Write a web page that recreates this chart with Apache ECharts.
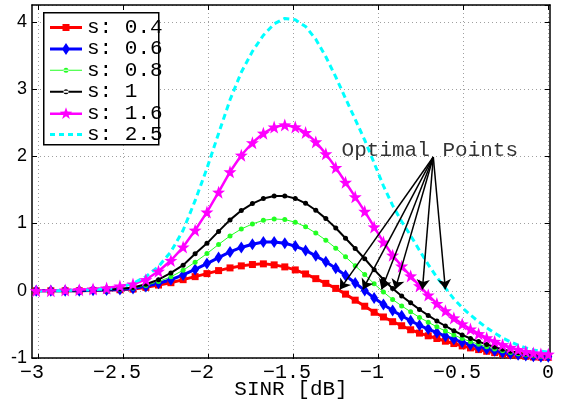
<!DOCTYPE html>
<html>
<head>
<meta charset="utf-8">
<script src="https://cdn.jsdelivr.net/npm/echarts@6/dist/echarts.min.js"></script>
<style>
  html, body { margin: 0; padding: 0; background: #fff; }
  #chart { width: 564px; height: 405px; }
</style>
</head>
<body>
<div id="chart"></div>
<script>
// SINR grid [dB]
const sinr = [-3.0103, -2.9243, -2.8400, -2.7572, -2.6761, -2.5964, -2.5181, -2.4413, -2.3657, -2.2915,
  -2.2185, -2.1467, -2.0761, -2.0066, -1.9382, -1.8709, -1.8046, -1.7393, -1.6749, -1.6115,
  -1.5490, -1.4874, -1.4267, -1.3668, -1.3077, -1.2494, -1.1919, -1.1351, -1.0791, -1.0238,
  -0.9691, -0.9151, -0.8619, -0.8092, -0.7572, -0.7058, -0.6550, -0.6048, -0.5552, -0.5061,
  -0.4576, -0.4096, -0.3621, -0.3152, -0.2687, -0.2228, -0.1773, -0.1323, -0.0877, -0.0436, 0]

const s04 = [0, 0, 0, 0, 0.005, 0.01, 0.015, 0.025, 0.05, 0.085,
  0.12, 0.165, 0.21, 0.255, 0.30, 0.34, 0.37, 0.39, 0.40, 0.385,
  0.355, 0.31, 0.25, 0.18, 0.11, 0.035, -0.05, -0.14, -0.23, -0.32,
  -0.39, -0.46, -0.52, -0.58, -0.63, -0.67, -0.71, -0.75, -0.785, -0.82,
  -0.85, -0.875, -0.90, -0.92, -0.94, -0.955, -0.965, -0.975, -0.985, -0.99, -0.99]
const s06 = [0, 0, 0, 0.001, 0.006, 0.011, 0.018, 0.033, 0.065, 0.111,
  0.164, 0.235, 0.318, 0.404, 0.494, 0.578, 0.644, 0.692, 0.724, 0.726,
  0.707, 0.664, 0.600, 0.519, 0.431, 0.334, 0.227, 0.116, 0.005, -0.109,
  -0.204, -0.295, -0.372, -0.447, -0.513, -0.569, -0.623, -0.675, -0.722, -0.766,
  -0.803, -0.835, -0.867, -0.892, -0.917, -0.936, -0.950, -0.963, -0.975, -0.981, -0.982]
const s08 = [0, 0, 0.001, 0.002, 0.007, 0.013, 0.022, 0.041, 0.080, 0.137,
  0.208, 0.305, 0.425, 0.553, 0.689, 0.816, 0.919, 0.994, 1.048, 1.068,
  1.059, 1.019, 0.951, 0.858, 0.752, 0.634, 0.504, 0.372, 0.241, 0.103,
  -0.019, -0.130, -0.225, -0.313, -0.396, -0.468, -0.537, -0.600, -0.658, -0.711,
  -0.757, -0.796, -0.833, -0.865, -0.894, -0.918, -0.935, -0.951, -0.965, -0.973, -0.975]
const s10 = [0, 0, 0.001, 0.003, 0.008, 0.014, 0.025, 0.049, 0.096, 0.164,
  0.265, 0.38, 0.55, 0.705, 0.883, 1.054, 1.193, 1.296, 1.371, 1.409,
  1.411, 1.373, 1.301, 1.197, 1.073, 0.934, 0.781, 0.629, 0.476, 0.314,
  0.167, 0.034, -0.077, -0.180, -0.279, -0.367, -0.450, -0.524, -0.595, -0.657,
  -0.710, -0.756, -0.800, -0.837, -0.871, -0.899, -0.921, -0.939, -0.955, -0.964, -0.967]
const s16 = [0, 0, 0.01, 0.015, 0.025, 0.04, 0.07, 0.10, 0.165, 0.29,
  0.45, 0.65, 0.90, 1.17, 1.466, 1.769, 2.016, 2.201, 2.343, 2.434,
  2.466, 2.436, 2.353, 2.214, 2.036, 1.832, 1.613, 1.397, 1.181, 0.949,
  0.724, 0.529, 0.366, 0.220, 0.073, -0.064, -0.190, -0.299, -0.405, -0.494,
  -0.570, -0.638, -0.700, -0.754, -0.803, -0.844, -0.876, -0.904, -0.925, -0.939, -0.944]
const s25 = [0, 0, 0.005, 0.01, 0.015, 0.025, 0.05, 0.11, 0.21, 0.36,
  0.58, 0.90, 1.34, 1.82, 2.34, 2.84, 3.25, 3.56, 3.80, 3.97,
  4.05, 4.03, 3.93, 3.74, 3.48, 3.18, 2.86, 2.55, 2.24, 1.90,
  1.56, 1.27, 1.03, 0.82, 0.60, 0.39, 0.20, 0.04, -0.12, -0.25,
  -0.36, -0.46, -0.55, -0.63, -0.70, -0.76, -0.81, -0.85, -0.88, -0.90, -0.91]

const xTicks = [-3, -2.5, -2, -1.5, -1, -0.5, 0]
const yTicks = [-1, 0, 1, 2, 3, 4]

// annotation: where the arrows start and the optimal points they hit
const optX = [-1.225, -1.09, -0.98, -0.90, -0.74, -0.605]
const optY = [0.02, 0.02, 0.02, 0.02, 0.02, 0.02]
const arrowFrom = [-0.676, 1.99]
const noteAt = [-1.215, 2.09]

const mono = 'Liberation Mono'
const toPairs = ys => sinr.map((x, i) => [x, ys[i]])
const star = 'path://M0,-10L2.35,-3.24L9.51,-3.09L3.8,1.24L5.88,8.09L0,4L-5.88,8.09L-3.8,1.24L-9.51,-3.09L-2.35,-3.24Z'
const dotted = { show: true, lineStyle: { color: '#a0a0a0', width: 1, type: [1, 3] } }
const frame = { show: true, onZero: false, lineStyle: { color: '#000', width: 1.5 } }
const tickIn = { show: true, inside: true, length: 5, lineStyle: { color: '#000', width: 1 } }

// legend icons: line sample with a small marker, drawn in a 32x14 box
const dot = 'M13.5,7a2.5,2.5 0 1,0 5,0a2.5,2.5 0 1,0 -5,0z'
const legendIcons = {
  's: 0.4': 'path://M0,5.5h32v3h-32zM12.5,3.5h7v7h-7z',
  's: 0.6': 'path://M0,5.5h32v3h-32zM16,1l4,6l-4,6l-4,-6z',
  's: 0.8': 'path://M0,6.5h32v1h-32z' + dot,
  's: 1': 'path://M0,6h32v2h-32z' + dot,
  's: 1.6': 'path://M0,5.75h32v2.5h-32zM16,0.5L17.53,4.9L22.18,4.99L18.47,7.8L19.82,12.26L16,9.6L12.18,12.26L13.53,7.8L9.82,4.99L14.47,4.9Z',
  's: 2.5': 'path://M0,6h5v3h-5zM9,6h5v3h-5zM18,6h5v3h-5zM27,6h5v3h-5z'
}

function lineSeries (name, ys, color, width, symbol, size, extra) {
  return Object.assign({
    name: name,
    type: 'line',
    xAxisIndex: 0,
    yAxisIndex: 0,
    data: toPairs(ys),
    symbol: symbol,
    symbolSize: size,
    showSymbol: symbol !== 'none',
    lineStyle: { color: color, width: width },
    itemStyle: { color: color },
    emphasis: { disabled: true }
  }, extra || {})
}

const chart = echarts.init(document.getElementById('chart'))
const option = {
  animation: false,
  backgroundColor: '#fff',
  grid: [
    { left: 32, top: 5, width: 518, height: 354 },
    { left: 38, top: 5, width: 510, height: 354 }
  ],
  legend: {
    orient: 'vertical',
    left: 50,
    top: 17,
    padding: 0,
    itemWidth: 32,
    itemHeight: 14,
    itemGap: 0.4,
    z: 6,
    textStyle: { fontFamily: mono, fontSize: 21, color: '#000' },
    data: Object.keys(legendIcons).map(n => ({ name: n, icon: legendIcons[n] }))
  },
  graphic: [{
    type: 'rect',
    left: 43,
    top: 12,
    z: 5,
    shape: { width: 115, height: 132 },
    style: { fill: '#fff', stroke: '#000', lineWidth: 1.5 }
  }],
  xAxis: [
    {
      gridIndex: 0, type: 'value', min: -3.035, max: 0.01, position: 'bottom',
      axisLine: frame, axisTick: { show: false }, axisLabel: { show: false }, splitLine: { show: false },
      name: 'SINR [dB]', nameLocation: 'middle', nameGap: 21,
      nameTextStyle: { fontFamily: mono, fontSize: 21, color: '#000' }
    },
    {
      gridIndex: 0, type: 'value', min: -3.035, max: 0.01, position: 'top',
      axisLine: frame, axisTick: { show: false }, axisLabel: { show: false }, splitLine: { show: false }
    },
    {
      gridIndex: 1, type: 'value', min: xTicks[0], max: xTicks[xTicks.length - 1], interval: 0.5, position: 'bottom',
      axisLine: { show: false, onZero: false }, axisTick: tickIn, splitLine: dotted,
      axisLabel: {
        margin: 4, fontFamily: mono, fontSize: 20, color: '#000',
        formatter: v => v < 0 ? '\u2212' + Math.abs(v) + ' ' : String(v)
      }
    },
    {
      gridIndex: 1, type: 'value', min: xTicks[0], max: xTicks[xTicks.length - 1], interval: 0.5, position: 'top',
      axisLine: { show: false, onZero: false }, axisTick: tickIn, axisLabel: { show: false }, splitLine: { show: false }
    }
  ],
  yAxis: [
    {
      gridIndex: 0, type: 'value', min: yTicks[0], max: 4.25, interval: 1, position: 'left',
      axisLine: frame, axisTick: tickIn, splitLine: dotted,
      axisLabel: { margin: 5, showMaxLabel: false, fontFamily: 'Liberation Sans', fontSize: 18, color: '#000' }
    },
    {
      gridIndex: 0, type: 'value', min: yTicks[0], max: 4.25, interval: 1, position: 'right',
      axisLine: frame, axisTick: tickIn, axisLabel: { show: false }, splitLine: { show: false }
    },
    { gridIndex: 1, type: 'value', min: yTicks[0], max: 4.25, show: false }
  ],
  series: [
    lineSeries('s: 0.4', s04, '#ff0000', 3, 'rect', 7),
    lineSeries('s: 0.6', s06, '#0000ff', 3, 'diamond', [8, 12]),
    lineSeries('s: 0.8', s08, '#22ff22', 1, 'circle', 5),
    lineSeries('s: 1', s10, '#000000', 2, 'circle', 5),
    lineSeries('s: 1.6', s16, '#ff00ff', 2.5, star, 13),
    lineSeries('s: 2.5', s25, '#00ffff', 3, 'none', 0, {
      lineStyle: { color: '#00ffff', width: 3, type: [6, 4] }
    }),
    {
      name: 'note',
      type: 'scatter',
      xAxisIndex: 0,
      yAxisIndex: 0,
      data: [noteAt],
      symbolSize: 0,
      silent: true,
      z: 4,
      label: {
        show: true, position: 'right', distance: 0, formatter: 'Optimal Points',
        fontFamily: mono, fontSize: 21, color: '#000'
      },
      markLine: {
        silent: true,
        symbol: ['none', 'arrow'],
        symbolSize: 10,
        label: { show: false },
        lineStyle: { color: '#000', width: 1.5, type: 'solid' },
        data: optX.map((x, i) => [{ coord: arrowFrom }, { coord: [x, optY[i]] }])
      }
    }
  ]
}
chart.setOption(option)
</script>
</body>
</html>
